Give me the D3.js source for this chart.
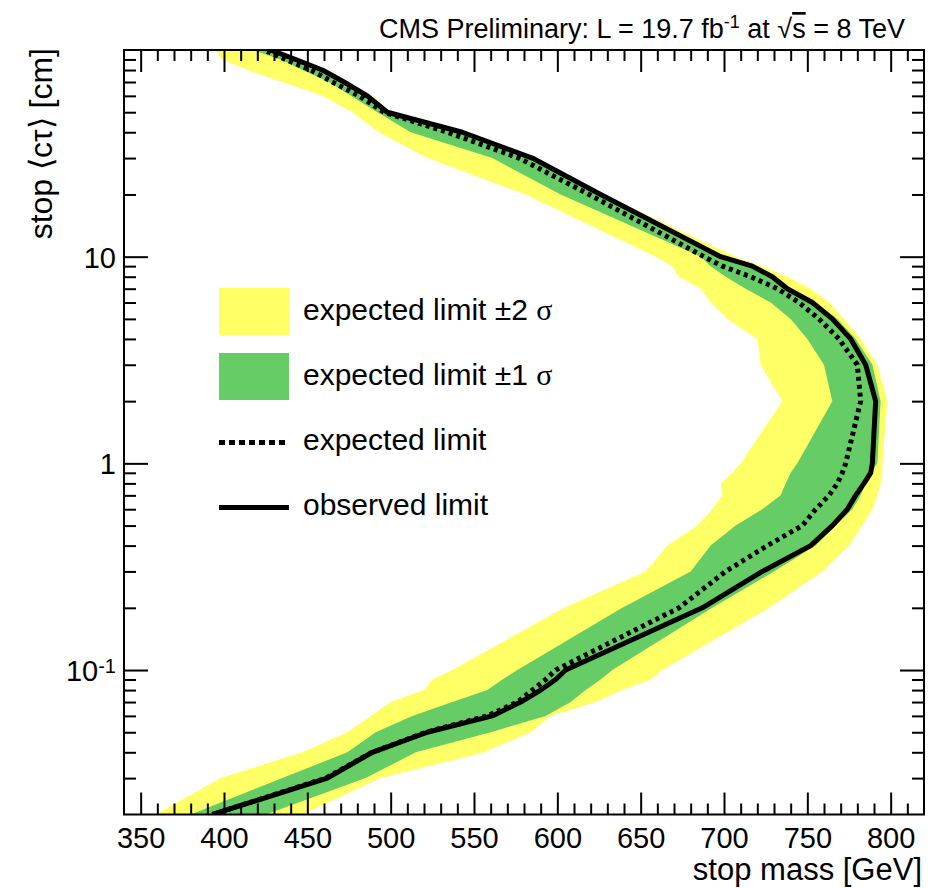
<!DOCTYPE html>
<html>
<head>
<meta charset="utf-8">
<script src="https://cdn.jsdelivr.net/npm/d3@7"></script>
<style>
body { margin: 0; background: #fff; }
svg text { font-family: "Liberation Sans", Arial, Helvetica, sans-serif; fill: #000; }
</style>
</head>
<body>
<div id="chart"></div>
<script>
// ctau values (cm) at which the limits were evaluated
var ctau = [0.02, 0.03, 0.04, 0.05, 0.06, 0.07, 0.08, 0.09, 0.1, 0.2, 0.3, 0.4, 0.5, 0.6, 0.7, 0.8, 0.9,
            1, 2, 3, 4, 5, 6, 7, 8, 9, 10, 20, 30, 40, 50, 60, 70, 80, 90, 100];
// stop mass limits (GeV)
var observed     = [393, 462, 489, 522, 561, 578, 590, 599, 605, 687, 723, 752, 765, 774, 779, 784, 788,
                    789, 791, 785, 776, 765, 753, 738, 729, 717, 698, 626, 585, 543, 498, 486, 472, 459, 443, 428];
var expected     = [393, 461, 489, 521, 558, 576, 585, 593, 599, 673, 701, 726, 747, 755, 763, 768, 771,
                    773, 782, 780, 769, 757, 745, 732, 716, 699, 688, 619, 577, 534, 496, 481, 465, 452, 437, 424];
var oneSigmaLow  = [380, 435, 474, 491, 513, 537, 558, 567, 576, 639, 680, 692, 707, 723, 734, 737, 740,
                    744, 765, 760, 750, 740, 728, 713, 701, 692, 686, 602, 561, 512, 492, 476, 463, 447, 434, 417];
var oneSigmaHigh = [425, 485, 515, 560, 593, 608, 617, 626, 633, 693, 730, 755, 767, 777, 782, 785, 788,
                    792, 794, 789, 779, 768, 755, 740, 731, 719, 699, 627, 586, 544, 499, 487, 473, 460, 444, 429];
var twoSigmaLow  = [359, 398, 447, 474, 488, 500, 520, 525, 537, 604, 653, 666, 684, 693, 699, 698, 705,
                    710, 735, 722, 720, 702, 692, 686, 673, 669, 659, 581, 522, 493, 477, 459, 435, 414, 399, 395];
var twoSigmaHigh = [447, 494, 556, 584, 596, 623, 639, 656, 663, 727, 759, 775, 783, 789, 792, 794, 795,
                    795, 798, 792, 782, 772, 763, 752, 738, 723, 707, 628, 587, 546, 500, 489, 474, 462, 445, 430];

var xMajorTicks = [350, 400, 450, 500, 550, 600, 650, 700, 750, 800];
var yMajorTicks = [0.1, 1, 10];
var legendLabels = ["expected limit \u00b12 ", "expected limit \u00b11 ", "expected limit", "observed limit"];

// set the dimensions and margins of the graph
var margin = {top: 50, right: 4, bottom: 73.5, left: 124},
    width = 928 - margin.left - margin.right,
    height = 888 - margin.top - margin.bottom;

var svg = d3.select("#chart")
  .append("svg")
    .attr("width", 928)
    .attr("height", 888)
  .append("g")
    .attr("transform", "translate(" + margin.left + "," + margin.top + ")");

var x = d3.scaleLinear().domain([340, 820]).range([0, width]);
var y = d3.scaleLog().domain([0.02, 100]).range([height, 0]);

var rows = ctau.map(function(c, i) {
  return {c: c, obs: observed[i], exp: expected[i],
          lo1: oneSigmaLow[i], hi1: oneSigmaHigh[i],
          lo2: twoSigmaLow[i], hi2: twoSigmaHigh[i]};
});

svg.append("clipPath").attr("id", "plotclip")
  .append("rect").attr("width", width).attr("height", height);

var plot = svg.append("g").attr("clip-path", "url(#plotclip)");

var band = function(lo, hi) {
  return d3.area()
    .y(function(d) { return y(d.c); })
    .x0(function(d) { return x(d[lo]); })
    .x1(function(d) { return x(d[hi]); });
};
var limitLine = function(key) {
  return d3.line()
    .x(function(d) { return x(d[key]); })
    .y(function(d) { return y(d.c); });
};

var yellow = "#ffff66", green = "#66cc66";

plot.append("path").datum(rows).attr("d", band("lo2", "hi2")).attr("fill", yellow);
plot.append("path").datum(rows).attr("d", band("lo1", "hi1")).attr("fill", green);
plot.append("path").datum(rows).attr("d", limitLine("exp"))
  .attr("fill", "none").attr("stroke", "#000").attr("stroke-width", 5)
  .attr("stroke-dasharray", "4,4");
plot.append("path").datum(rows).attr("d", limitLine("obs"))
  .attr("fill", "none").attr("stroke", "#000").attr("stroke-width", 5)
  .attr("stroke-linejoin", "round");

// ticks, ROOT style: inside on all four sides
var xMinor = d3.range(350, 820, 10).filter(function(v) { return v % 50 != 0; });
var yMinor = [];
[0.01, 0.1, 1, 10].forEach(function(dec) {
  for (var k = 2; k <= 9; k++) {
    var v = +(k * dec).toPrecision(3);
    if (v > 0.02 && v < 100) yMinor.push(v);
  }
});

function tickAxis(axis, vals, size) {
  return axis.tickValues(vals).tickSize(size).tickFormat("");
}

svg.append("g").attr("class", "axis").attr("transform", "translate(0," + height + ")")
  .call(d3.axisBottom(x).tickValues(xMajorTicks).tickSize(-22).tickPadding(13).tickFormat(d3.format("d")));
svg.append("g").attr("class", "axis").attr("transform", "translate(0," + height + ")")
  .call(tickAxis(d3.axisBottom(x), xMinor, -11));
svg.append("g").attr("class", "axis")
  .call(tickAxis(d3.axisTop(x), xMajorTicks, -22));
svg.append("g").attr("class", "axis")
  .call(tickAxis(d3.axisTop(x), xMinor, -11));

svg.append("g").attr("class", "axis ylab")
  .call(d3.axisLeft(y).tickValues(yMajorTicks).tickSize(-24).tickPadding(8).tickFormat(function() { return ""; }));
svg.append("g").attr("class", "axis")
  .call(tickAxis(d3.axisLeft(y), yMinor, -12));
svg.append("g").attr("class", "axis").attr("transform", "translate(" + width + ",0)")
  .call(tickAxis(d3.axisRight(y), yMajorTicks, -24));
svg.append("g").attr("class", "axis").attr("transform", "translate(" + width + ",0)")
  .call(tickAxis(d3.axisRight(y), yMinor, -12));

svg.selectAll(".axis .domain").remove();
svg.selectAll(".axis line").attr("stroke", "#000").attr("stroke-width", 2);
svg.selectAll(".axis text").attr("font-size", 29).attr("fill", "#000")
  .style("font-family", "'Liberation Sans', Arial, Helvetica, sans-serif");

// y tick labels 10, 1, 10^-1
svg.selectAll(".ylab .tick text").each(function(d) {
  var t = d3.select(this).attr("dy", "0.36em");
  if (d >= 1) {
    t.text(d3.format("d")(d));
  } else {
    t.append("tspan").text("10");
    t.append("tspan").attr("dy", "-0.42em").attr("font-size", 20).text("-1");
  }
});

// frame
svg.append("rect").attr("width", width).attr("height", height)
  .attr("fill", "none").attr("stroke", "#000").attr("stroke-width", 2);

// axis titles
svg.append("text")
  .attr("x", width - 2).attr("y", height + 65)
  .attr("text-anchor", "end").attr("font-size", 31)
  .text("stop mass [GeV]");

svg.append("text")
  .attr("transform", "translate(-72,-2) rotate(-90)")
  .attr("text-anchor", "end").attr("font-size", 32)
  .text("stop \u27e8c\u03c4\u27e9 [cm]");

// header
var title = svg.append("text")
  .attr("x", width - 19).attr("y", -12)
  .attr("text-anchor", "end").attr("font-size", 27);
title.append("tspan").text("CMS Preliminary: L = 19.7 fb");
title.append("tspan").attr("dy", -10).attr("font-size", 18).text("-1");
title.append("tspan").attr("dy", 10).text(" at \u221a");
title.append("tspan").style("text-decoration", "overline").text("s");
title.append("tspan").text(" = 8 TeV");

// legend
var legend = svg.append("g").attr("transform", "translate(95,238)");
var entry = legend.selectAll("g").data(legendLabels).join("g")
  .attr("transform", function(d, i) { return "translate(0," + (i * 65) + ")"; });

entry.filter(function(d, i) { return i < 2; }).append("rect")
  .attr("width", 70).attr("height", 47)
  .attr("fill", function(d, i) { return i == 0 ? yellow : green; });
entry.filter(function(d, i) { return i >= 2; }).append("line")
  .attr("x1", 0).attr("x2", 70).attr("y1", 24.5).attr("y2", 24.5)
  .attr("stroke", "#000").attr("stroke-width", 5)
  .attr("stroke-dasharray", function(d, i) { return i == 0 ? "6,4" : null; });

var legText = entry.append("text")
  .attr("x", 84).attr("y", 32).attr("font-size", 30)
  .text(function(d) { return d; });
legText.filter(function(d, i) { return i < 2; })
  .append("tspan").style("font-family", "'Liberation Serif', 'DejaVu Serif', serif").text("\u03c3");
</script>
</body>
</html>
